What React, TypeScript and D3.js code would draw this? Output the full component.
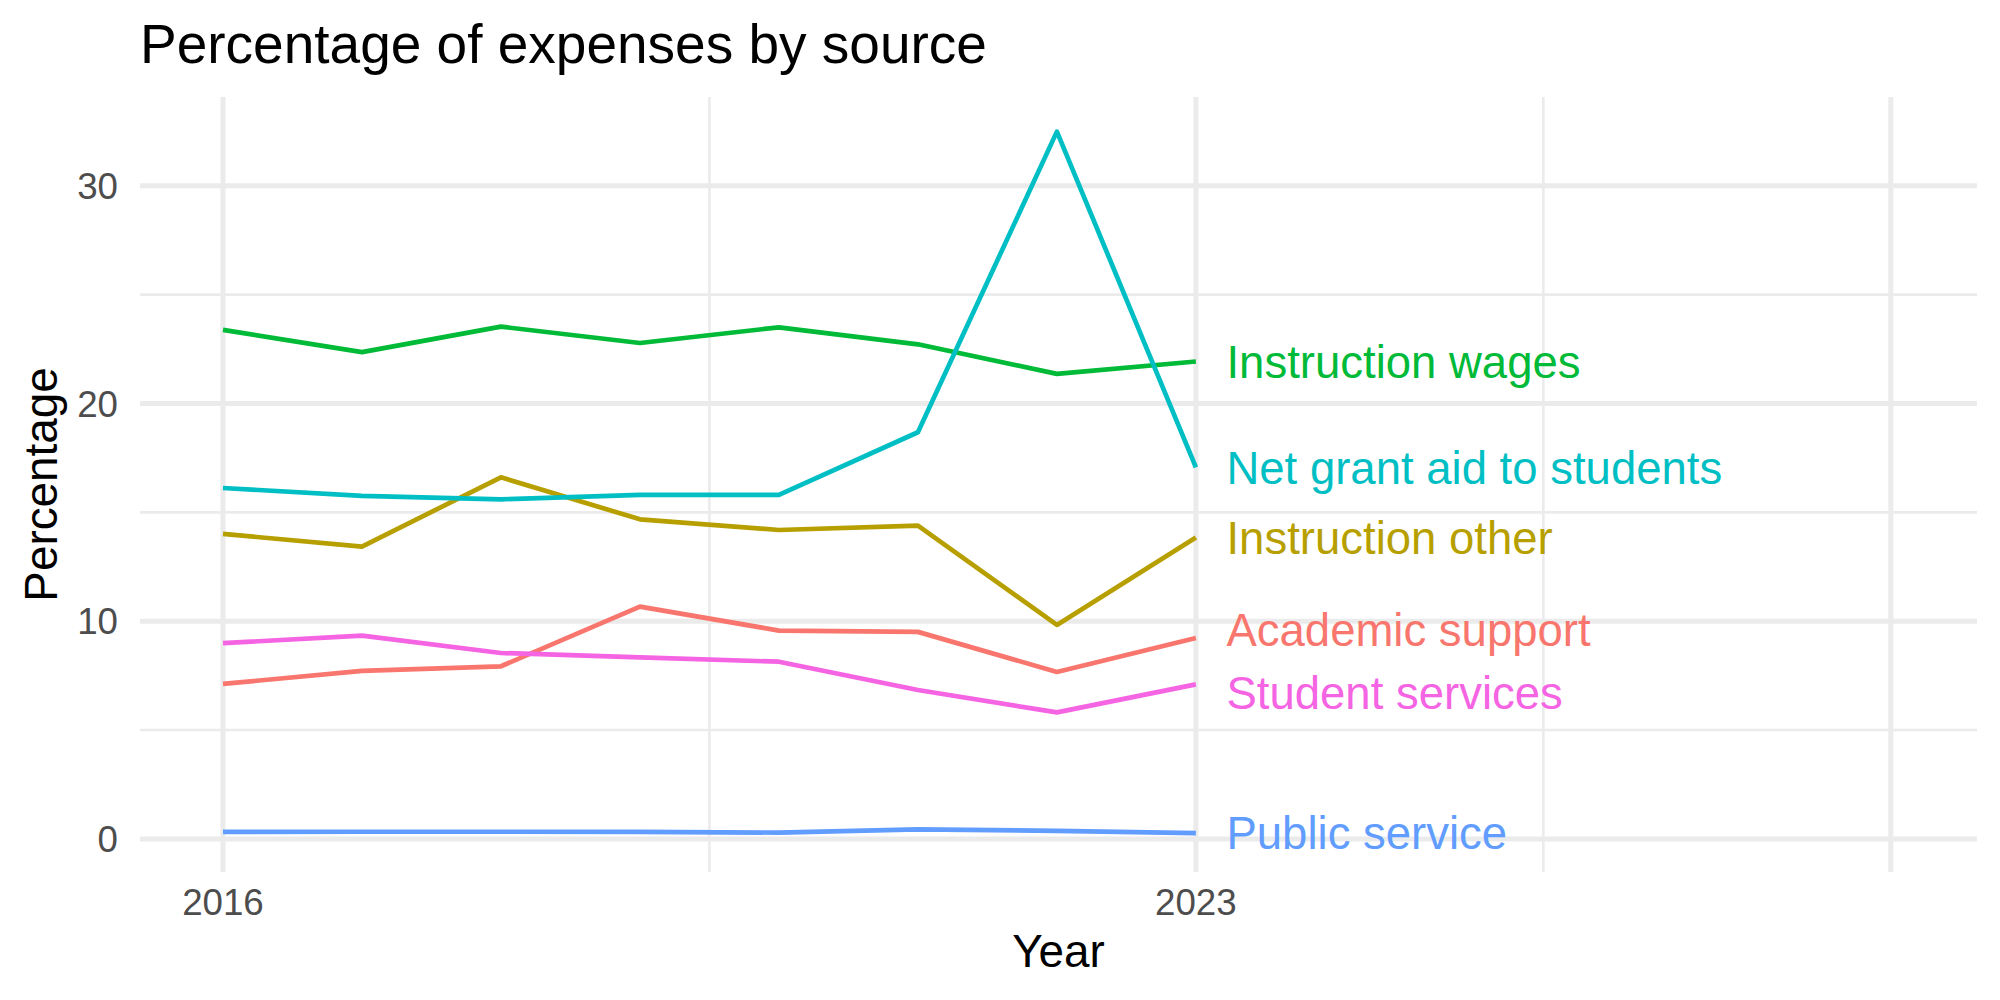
import { useRef, useEffect } from "react";
import * as d3 from "d3";

// data
const years = [2016, 2017, 2018, 2019, 2020, 2021, 2022, 2023];
const categories = [
  "Academic support",
  "Instruction other",
  "Instruction wages",
  "Net grant aid to students",
  "Public service",
  "Student services",
];
const academicSupport = [7.12, 7.72, 7.93, 10.67, 9.57, 9.51, 7.67, 9.23];
const instructionOther = [14.01, 13.43, 16.61, 14.68, 14.19, 14.39, 9.83, 13.85];
const instructionWages = [23.38, 22.36, 23.53, 22.78, 23.5, 22.72, 21.36, 21.93];
const netGrantAid = [16.12, 15.76, 15.6, 15.8, 15.8, 18.68, 32.49, 17.07];
const publicService = [0.32, 0.33, 0.33, 0.32, 0.29, 0.44, 0.37, 0.27];
const studentServices = [8.99, 9.34, 8.54, 8.34, 8.14, 6.84, 5.81, 7.1];
const seriesValues = [
  academicSupport,
  instructionOther,
  instructionWages,
  netGrantAid,
  publicService,
  studentServices,
];
const colors = ["#F8766D", "#B79F00", "#00BA38", "#00BFC4", "#619CFF", "#F564E3"];
const xBreaks = [2016, 2023, 2028];
const xLabels = ["2016", "2023", ""];
const xMinor = [2019.5, 2025.5];
const yBreaks = [0, 10, 20, 30];
const yMinor = [5, 15, 25];

function App() {
  const svgRef = useRef<SVGSVGElement>(null);

  useEffect(() => {
    const w = 2000;
    const h = 1000;
    const left = 140;
    const right = 1977;
    const top = 97;
    const bottom = 872;
    const font = "'Liberation Sans', Arial, Helvetica, sans-serif";

    const svg = d3.select(svgRef.current).attr("width", w).attr("height", h);
    svg.selectAll("*").remove();
    svg.append("rect").attr("width", w).attr("height", h).attr("fill", "white");

    // scales
    const x = d3.scaleLinear().domain([2015.403, 2028.62]).range([left, right]);
    const y = d3.scaleLinear().domain([-1.52, 34.08]).range([bottom, top]);

    // grid
    const grid = svg.append("g");
    grid
      .selectAll(".ymin")
      .data(yMinor)
      .enter()
      .append("line")
      .attr("x1", left)
      .attr("x2", right)
      .attr("y1", (d) => y(d))
      .attr("y2", (d) => y(d))
      .attr("stroke", "#EBEBEB")
      .attr("stroke-width", 2.6);
    grid
      .selectAll(".xmin")
      .data(xMinor)
      .enter()
      .append("line")
      .attr("x1", (d) => x(d))
      .attr("x2", (d) => x(d))
      .attr("y1", top)
      .attr("y2", bottom)
      .attr("stroke", "#EBEBEB")
      .attr("stroke-width", 2.6);
    grid
      .selectAll(".ymaj")
      .data(yBreaks)
      .enter()
      .append("line")
      .attr("x1", left)
      .attr("x2", right)
      .attr("y1", (d) => y(d))
      .attr("y2", (d) => y(d))
      .attr("stroke", "#EBEBEB")
      .attr("stroke-width", 5);
    grid
      .selectAll(".xmaj")
      .data(xBreaks)
      .enter()
      .append("line")
      .attr("x1", (d) => x(d))
      .attr("x2", (d) => x(d))
      .attr("y1", top)
      .attr("y2", bottom)
      .attr("stroke", "#EBEBEB")
      .attr("stroke-width", 5);

    // tick labels
    svg
      .append("g")
      .selectAll("text")
      .data(yBreaks)
      .enter()
      .append("text")
      .attr("x", 118)
      .attr("y", (d) => y(d) + 13)
      .attr("text-anchor", "end")
      .attr("font-family", font)
      .attr("font-size", 36.7)
      .attr("fill", "#4D4D4D")
      .text((d) => String(d));
    svg
      .append("g")
      .selectAll("text")
      .data(xBreaks)
      .enter()
      .append("text")
      .attr("x", (d) => x(d))
      .attr("y", 915)
      .attr("text-anchor", "middle")
      .attr("font-family", font)
      .attr("font-size", 36.7)
      .attr("fill", "#4D4D4D")
      .text((d, i) => xLabels[i]);

    // lines
    const line = d3
      .line<number>()
      .x((d, i) => x(years[i]))
      .y((d) => y(d));
    svg
      .append("g")
      .selectAll("path")
      .data(seriesValues)
      .enter()
      .append("path")
      .attr("d", (d) => line(d))
      .attr("fill", "none")
      .attr("stroke", (d, i) => colors[i])
      .attr("stroke-width", 4.7)
      .attr("stroke-linejoin", "round");

    // end labels, pushed apart where they overlap
    const lastX = years[years.length - 1];
    const ends = categories.map((c, i) => ({
      name: c,
      color: colors[i],
      ly: y(seriesValues[i][seriesValues[i].length - 1]),
    }));
    const sorted = [...ends].sort((a, b) => a.ly - b.ly);
    const gap = 63;
    for (let k = 0; k < 20; k++) {
      for (let i = 1; i < sorted.length; i++) {
        const d = sorted[i].ly - sorted[i - 1].ly;
        if (d < gap) {
          const push = (gap - d) / 2;
          sorted[i].ly += push;
          sorted[i - 1].ly -= push;
        }
      }
    }
    svg
      .append("g")
      .selectAll("text")
      .data(ends)
      .enter()
      .append("text")
      .attr("x", x(lastX + 0.22))
      .attr("y", (d) => d.ly + 16.3)
      .attr("font-family", font)
      .attr("font-size", 45.5)
      .attr("fill", (d) => d.color)
      .text((d) => d.name);

    // titles
    svg
      .append("text")
      .attr("x", 140)
      .attr("y", 63)
      .attr("font-family", font)
      .attr("font-size", 55)
      .attr("fill", "black")
      .text("Percentage of expenses by source");
    svg
      .append("text")
      .attr("x", (left + right) / 2)
      .attr("y", 967)
      .attr("text-anchor", "middle")
      .attr("font-family", font)
      .attr("font-size", 45.8)
      .attr("fill", "black")
      .text("Year");
    svg
      .append("text")
      .attr("transform", `translate(57, ${(top + bottom) / 2}) rotate(-90)`)
      .attr("text-anchor", "middle")
      .attr("font-family", font)
      .attr("font-size", 45.8)
      .attr("fill", "black")
      .text("Percentage");
  }, []);

  return (
    <svg
      ref={svgRef}
      style={{ position: "absolute", left: 0, top: 0, display: "block" }}
    ></svg>
  );
}

export default App;
